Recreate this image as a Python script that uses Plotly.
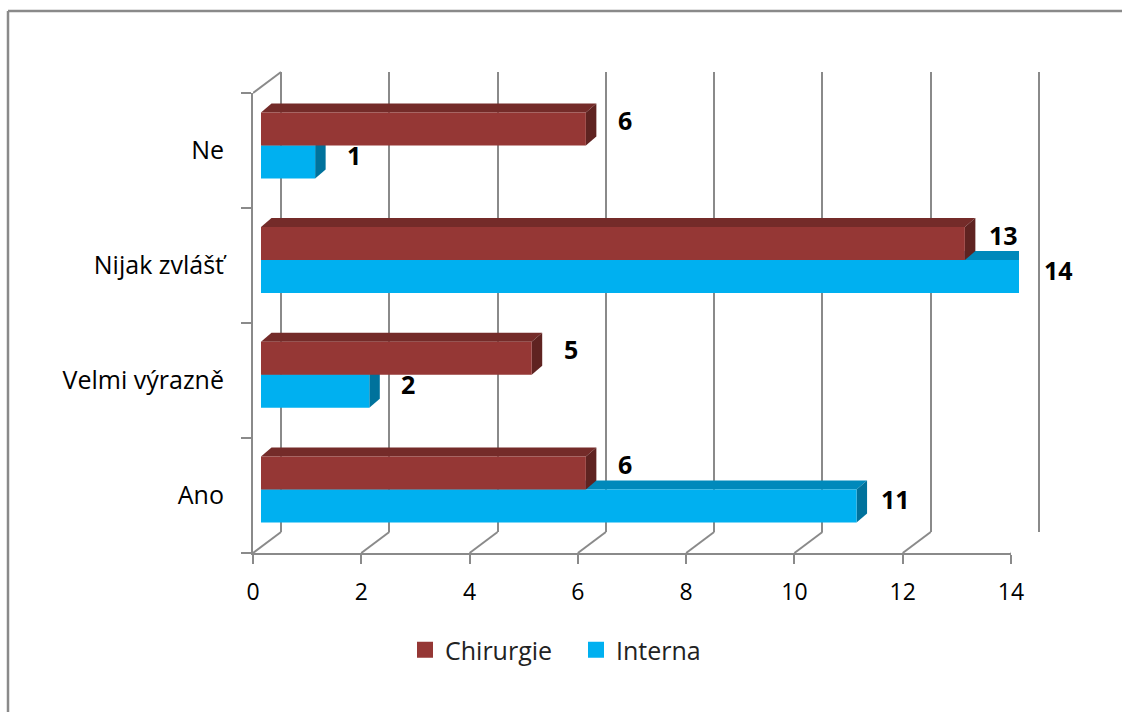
import plotly.graph_objects as go

# ---- data ----
categories = ["Ano", "Velmi výrazně", "Nijak zvlášť", "Ne"]
chirurgie = [6, 5, 13, 6]
interna = [11, 2, 14, 1]
x_ticks = [0, 2, 4, 6, 8, 10, 12, 14]
series_names = ["Chirurgie", "Interna"]

# ---- style ----
W, H = 1122, 712
FONT = "'Open Sans', Lato, sans-serif"
GRAY = "#8a8a8a"
C_RED, C_RED_TOP, C_RED_SIDE = "#953735", "#742b29", "#5f2321"
C_BLUE, C_BLUE_TOP, C_BLUE_SIDE = "#00b0f0", "#0089bb", "#00729c"

def px_x(p):
    return p / W

def px_y(p):
    return 1 - p / H

XMAX = 14
idx = list(range(len(categories)))
BARGAP = 0.425
BW = (1 - BARGAP) / 2          # width of one bar in category units
UNIT_X = (1019 - 261) / XMAX   # px per x unit
UNIT_Y = 114.7                 # px per category
DX = 10.5 / UNIT_X             # depth in x units
DY = 9.0 / UNIT_Y              # depth in category units
GPAD = 0.06                    # so that grid lines at 0 and 14 are kept

fig = go.Figure()

# back-wall grid axis (x / y)
fig.add_trace(go.Scatter(x=chirurgie, y=[0.5] * len(chirurgie), xaxis="x", yaxis="y",
                         mode="markers", marker=dict(opacity=0), hoverinfo="skip",
                         showlegend=False))
# front axes (x2 / y2)
fig.add_trace(go.Scatter(x=chirurgie, y=categories, xaxis="x2", yaxis="y2",
                         mode="markers", marker=dict(opacity=0), hoverinfo="skip",
                         showlegend=False))
# bars (x3 / y3)
fig.add_trace(go.Bar(y=idx, x=interna, orientation="h", name="Interna",
                     marker=dict(color=C_BLUE, line=dict(width=0)),
                     xaxis="x3", yaxis="y3", showlegend=False, hoverinfo="x"))
fig.add_trace(go.Bar(y=idx, x=chirurgie, orientation="h", name="Chirurgie",
                     marker=dict(color=C_RED, line=dict(width=0)),
                     xaxis="x3", yaxis="y3", showlegend=False, hoverinfo="x"))

# legend entries
for name, col in zip(series_names, [C_RED, C_BLUE]):
    fig.add_trace(go.Scatter(x=[None], y=[None], mode="markers", name=name,
                             marker=dict(symbol="square", size=16, color=col),
                             xaxis="x3", yaxis="y3"))

shapes = []
# 3D faces of bars (interna first, then chirurgie)
for vals, sign, ctop, cside in [(interna, -1, C_BLUE_TOP, C_BLUE_SIDE),
                                (chirurgie, 1, C_RED_TOP, C_RED_SIDE)]:
    for i, v in zip(idx, vals):
        if sign < 0:
            bot, top = i - BW, i
        else:
            bot, top = i, i + BW
        shapes.append(dict(type="path", xref="x3", yref="y3", layer="between",
                           path=f"M0,{top} L{v},{top} L{v+DX},{top+DY} L{DX},{top+DY} Z",
                           fillcolor=ctop, line=dict(width=0)))
        shapes.append(dict(type="path", xref="x3", yref="y3", layer="between",
                           path=f"M{v},{bot} L{v},{top} L{v+DX},{top+DY} L{v+DX},{bot+DY} Z",
                           fillcolor=cside, line=dict(width=0)))

# floor diagonals and wall top diagonal
for t in x_ticks:
    shapes.append(dict(type="line", xref="x2", yref="y2 domain",
                       xsizemode="pixel", xanchor=t, ysizemode="pixel", yanchor=0,
                       x0=0, x1=28, y0=0, y1=21, line=dict(color=GRAY, width=2)))
shapes.append(dict(type="line", xref="x2", yref="y2 domain",
                   xsizemode="pixel", xanchor=0, ysizemode="pixel", yanchor=1,
                   x0=0, x1=28, y0=0, y1=21, line=dict(color=GRAY, width=2)))
# chart border (top & left visible)
shapes.append(dict(type="line", xref="paper", yref="paper",
                   x0=px_x(8), x1=1, y0=px_y(11), y1=px_y(11),
                   line=dict(color=GRAY, width=2.5)))
shapes.append(dict(type="line", xref="paper", yref="paper",
                   x0=px_x(8), x1=px_x(8), y0=0, y1=px_y(11),
                   line=dict(color=GRAY, width=2.5)))

annotations = []
for vals, off, ysh in [(chirurgie, BW / 2, 9), (interna, -BW / 2, 7)]:
    for i, v in zip(idx, vals):
        annotations.append(dict(x=v, y=i + off, xref="x3", yref="y3", text=str(v),
                                showarrow=False, xanchor="center", yanchor="middle",
                                xshift=39, yshift=ysh,
                                font=dict(family=FONT, size=25, color="#000000",
                                          weight="bold")))

fig.update_layout(
    width=W, height=H, margin=dict(l=0, r=0, t=0, b=0, autoexpand=False),
    paper_bgcolor="white", plot_bgcolor="rgba(0,0,0,0)",
    font=dict(family=FONT, size=23, color="#000000"),
    barmode="group", bargap=BARGAP, bargroupgap=0,
    shapes=shapes, annotations=annotations,
    xaxis=dict(domain=[px_x(281 - GPAD * UNIT_X), px_x(1039 + GPAD * UNIT_X)],
               range=[-GPAD, XMAX + GPAD], anchor="y",
               tickmode="array", tickvals=x_ticks, showticklabels=False,
               showgrid=True, gridcolor=GRAY, gridwidth=2, zeroline=False,
               showline=False, ticks="", automargin=False),
    yaxis=dict(domain=[px_y(532), px_y(72)], range=[0, 1], anchor="x",
               visible=False, showgrid=False, zeroline=False, automargin=False),
    xaxis2=dict(domain=[px_x(253), px_x(1011)], range=[0, XMAX], anchor="y2",
                tickmode="array", tickvals=x_ticks, ticks="outside", ticklen=9,
                tickcolor=GRAY, tickwidth=2, showline=True, linecolor=GRAY, linewidth=2,
                showgrid=False, zeroline=False, ticklabelstandoff=8, automargin=False,
                tickfont=dict(size=23, color="#000000")),
    yaxis2=dict(domain=[px_y(553), px_y(93)], type="category",
                categoryorder="array", categoryarray=categories, range=[-0.5, 3.5],
                anchor="x2", tickson="boundaries", ticks="outside", ticklen=10,
                tickcolor=GRAY, tickwidth=2, showline=True, linecolor=GRAY, linewidth=2,
                showgrid=False, zeroline=False, ticklabelstandoff=22, automargin=False,
                tickfont=dict(size=25, color="#000000")),
    xaxis3=dict(domain=[px_x(261), px_x(1019)], range=[0, XMAX], anchor="y3",
                visible=False, showgrid=False, zeroline=False, automargin=False),
    yaxis3=dict(domain=[px_y(546.85), px_y(88.05)], range=[-0.5, 3.5], anchor="x3",
                visible=False, showgrid=False, zeroline=False, automargin=False),
    legend=dict(orientation="h", x=px_x(405), xanchor="left", y=px_y(650), yanchor="middle",
                font=dict(size=25, color="#222222"), itemwidth=30, entrywidth=126,
                bgcolor="rgba(0,0,0,0)"),
)

fig.write_html("out.html")
